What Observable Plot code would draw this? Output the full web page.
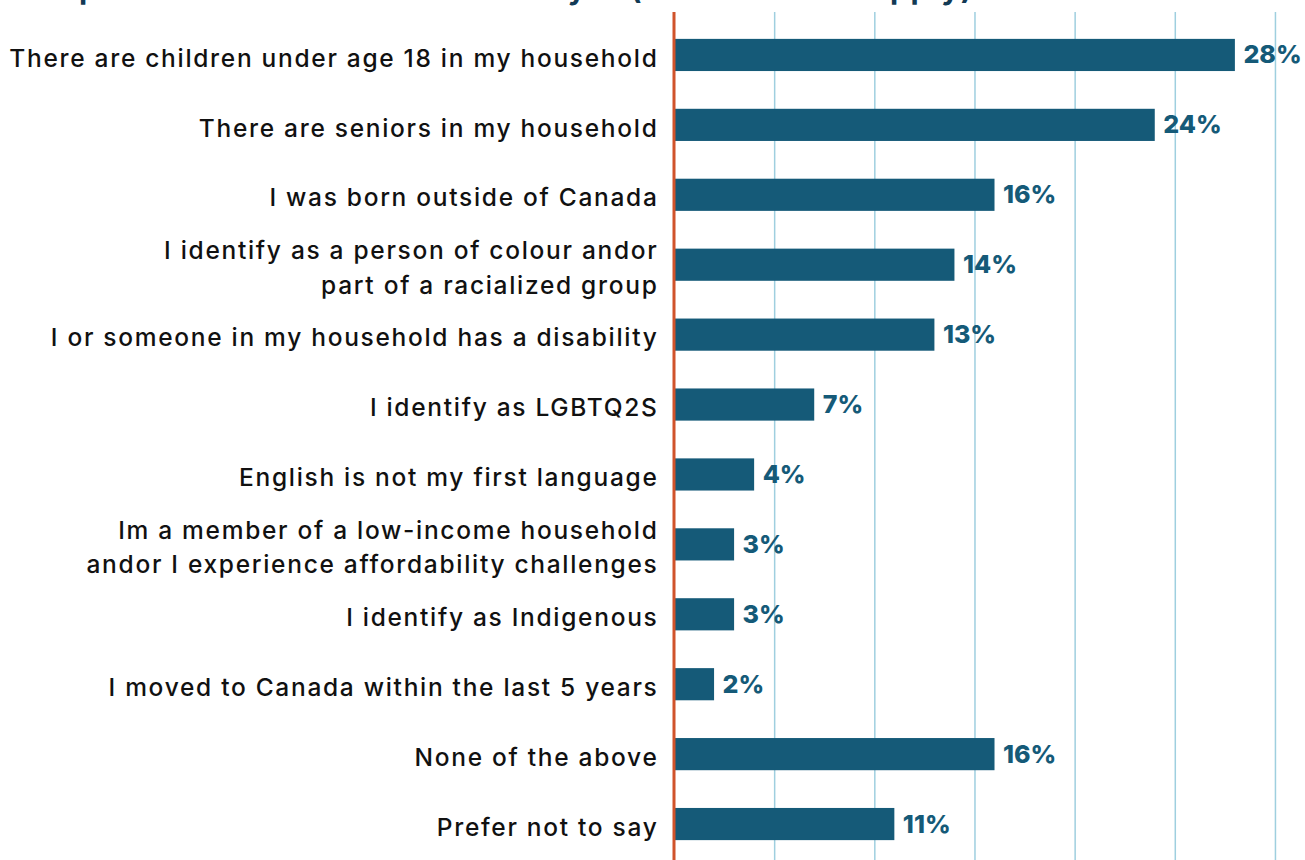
<!DOCTYPE html>
<html>
<head>
<meta charset="utf-8">
<script src="https://cdn.jsdelivr.net/npm/d3@7"></script>
<script src="https://cdn.jsdelivr.net/npm/@observablehq/plot@0.6"></script>
<style>
  html, body { margin: 0; padding: 0; background: #fff; overflow: hidden; }
  body { width: 1305px; height: 860px; position: relative; font-family: Inter, "Noto Sans", sans-serif; }
  #title { position: absolute; left: 25px; top: -27px; font-size: 30px; line-height: 30px; font-weight: 700; color: #123a55; white-space: nowrap; }
  #title span { letter-spacing: 1.6px; }
  #chart { position: absolute; left: 0; top: 0; }
  .bars g[aria-label="y-axis tick label"] { letter-spacing: 1.7px; }
</style>
</head>
<body>
<div id="title">Respondent characteristics or identity — <span>(select all that apply)</span></div>
<div id="chart"></div>
<script>
const categories = [
  "There are children under age 18 in my household",
  "There are seniors in my household",
  "I was born outside of Canada",
  "I identify as a person of colour andor\npart of a racialized group",
  "I or someone in my household has a disability",
  "I identify as LGBTQ2S",
  "English is not my first language",
  "Im a member of a low-income household\nandor I experience affordability challenges",
  "I identify as Indigenous",
  "I moved to Canada within the last 5 years",
  "None of the above",
  "Prefer not to say"
];
const values = [28, 24, 16, 14, 13, 7, 4, 3, 3, 2, 16, 11];
const gridTicks = [5, 10, 15, 20, 25, 30];

const data = categories.map((c, i) => ({category: c, value: values[i]}));

const chart = Plot.plot({
  className: "bars",
  width: 1305,
  height: 860,
  marginLeft: 674,
  marginRight: 0,
  marginTop: 20,
  marginBottom: 1,
  style: {fontFamily: "Inter, 'Noto Sans', sans-serif", background: "transparent"},
  x: {domain: [0, 31.5], axis: null},
  y: {domain: categories, paddingInner: 0.54, paddingOuter: 0.27, round: false, label: null},
  marks: [
    Plot.ruleX(gridTicks, {x: d => d, stroke: "#9fcfdf", strokeWidth: 1.5, insetTop: -8, insetBottom: -1}),
    Plot.barX(data, {x: "value", y: "category", fill: "#155a78"}),
    Plot.ruleX([0], {x: d => d, stroke: "#d0532b", strokeWidth: 3, dx: -0.5, insetTop: -8, insetBottom: -1}),
    Plot.text(data, {x: "value", y: "category", text: d => d.value + "%", dx: 8, textAnchor: "start",
      fill: "#155a78", fontSize: 25, fontWeight: 800}),
    Plot.axisY({tickSize: 0, tickPadding: 16, fontSize: 24.5, fontWeight: 500, fill: "#111", lineHeight: 1.42, label: null})
  ]
});
document.getElementById("chart").appendChild(chart);
</script>
</body>
</html>
